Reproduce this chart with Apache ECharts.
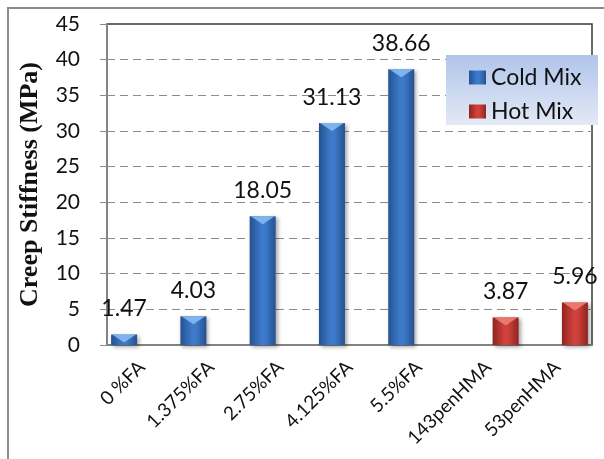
<!DOCTYPE html>
<html>
<head>
<meta charset="utf-8">
<script src="https://cdn.jsdelivr.net/npm/echarts@6/dist/echarts.min.js"></script>
<style>
  html, body { margin: 0; padding: 0; background: #fff; }
  #chart { width: 604px; height: 459px; }
</style>
</head>
<body>
<div id="chart"></div>
<script>
// Mix designs along the x axis
const categories = ['0 %FA', '1.375%FA', '2.75%FA', '4.125%FA', '5.5%FA', '143penHMA', '53penHMA'];
// Creep stiffness (MPa) per mix type
const coldMix = [1.47, 4.03, 18.05, 31.13, 38.66, null, null];
const hotMix = [null, null, null, null, null, 3.87, 5.96];
// Value axis ticks
const yMin = 0, yMax = 45, yStep = 5;

const FONT = 'Lato, "Open Sans", sans-serif';
const BAR_W = 26;
const BAR_GAP = '35%';

function barGradient(edge, mid) {
  return new echarts.graphic.LinearGradient(0, 0, 1, 0, [
    { offset: 0, color: edge },
    { offset: 0.45, color: mid },
    { offset: 0.6, color: mid },
    { offset: 1, color: edge }
  ]);
}
const blueFill = barGradient('#24528f', '#3d7acb');
const redFill = barGradient('#8f2420', '#d0413b');

function barSeries(name, data, fill) {
  return {
    name: name,
    type: 'bar',
    data: data,
    barWidth: BAR_W,
    barGap: BAR_GAP,
    itemStyle: {
      color: fill,
      shadowColor: 'rgba(0,0,0,0.35)',
      shadowBlur: 4,
      shadowOffsetX: 2,
      shadowOffsetY: 2
    },
    label: {
      show: true,
      position: 'top',
      distance: 14,
      fontFamily: FONT,
      fontSize: 23,
      color: '#111'
    },
    z: 2
  };
}

// Light bevel triangle on the top of each bar
function bevelSeries(name, data, color) {
  return {
    name: name + ' bevel',
    type: 'pictorialBar',
    data: data,
    barWidth: BAR_W,
    barGap: BAR_GAP,
    symbol: 'path://M0,0 L24,0 L12,8 Z',
    symbolSize: [BAR_W - 2, 8],
    symbolPosition: 'end',
    symbolOffset: [0, 0],
    itemStyle: { color: color },
    silent: true,
    z: 3
  };
}

const chart = echarts.init(document.getElementById('chart'), null, { renderer: 'canvas' });

chart.setOption({
  animation: false,
  backgroundColor: '#fff',
  grid: {
    left: 107, right: 12, top: 24, bottom: 114,
    show: true,
    borderColor: '#3a3a3a',
    borderWidth: 1.5,
    backgroundColor: 'transparent'
  },
  graphic: [
    {
      type: 'rect',
      shape: { x: 8, y: 8, width: 700, height: 600 },
      style: { fill: 'none', stroke: '#8c8c8c', lineWidth: 2 },
      silent: true,
      z: -10
    },
    {
      type: 'rect',
      shape: { x: 446, y: 55, width: 152, height: 70 },
      style: {
        fill: new echarts.graphic.LinearGradient(0, 0, 0, 1, [
          { offset: 0, color: '#b0c5ea' },
          { offset: 1, color: '#e3e9f5' }
        ])
      },
      silent: true,
      z: 20
    }
  ],
  legend: {
    data: ['Cold Mix', 'Hot Mix'],
    orient: 'vertical',
    left: 464,
    top: 61,
    icon: 'rect',
    itemWidth: 17,
    itemHeight: 14,
    itemGap: 11,
    textStyle: { fontFamily: FONT, fontSize: 23, color: '#111', lineHeight: 23 },
    z: 30
  },
  xAxis: {
    type: 'category',
    data: categories,
    axisLine: { show: true, lineStyle: { color: '#8c8c8c', width: 1.5 } },
    axisTick: { show: false },
    axisLabel: {
      rotate: 45,
      interval: 0,
      margin: 19,
      fontFamily: FONT,
      fontSize: 19,
      color: '#111'
    }
  },
  yAxis: {
    type: 'value',
    min: yMin,
    max: yMax,
    interval: yStep,
    name: 'Creep Stiffness (MPa)',
    nameLocation: 'middle',
    nameGap: 64,
    nameTextStyle: {
      fontFamily: '"Liberation Serif", "DejaVu Serif", serif',
      fontWeight: 'bold',
      fontSize: 26,
      color: '#111'
    },
    axisLine: { show: true, lineStyle: { color: '#8c8c8c', width: 1.5 } },
    axisTick: { show: true, length: 7, lineStyle: { color: '#8c8c8c' } },
    axisLabel: {
      margin: 27,
      fontFamily: FONT,
      fontSize: 21,
      color: '#111'
    },
    splitLine: {
      show: true,
      showMinLine: false,
      showMaxLine: false,
      lineStyle: { color: '#8c8c8c', type: [8, 5], width: 1 }
    }
  },
  series: [
    barSeries('Cold Mix', coldMix, blueFill),
    barSeries('Hot Mix', hotMix, redFill),
    bevelSeries('Cold Mix', coldMix, 'rgba(140,190,245,0.85)'),
    bevelSeries('Hot Mix', hotMix, 'rgba(240,130,120,0.85)')
  ]
});
</script>
</body>
</html>
